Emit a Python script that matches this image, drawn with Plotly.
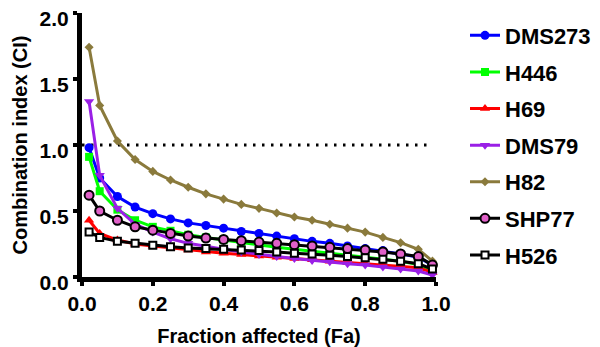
import plotly.graph_objects as go

# Fraction affected (Fa) levels
fa = [0.02, 0.05, 0.10, 0.15, 0.20, 0.25, 0.30, 0.35, 0.40, 0.45, 0.50,
      0.55, 0.60, 0.65, 0.70, 0.75, 0.80, 0.85, 0.90, 0.95, 0.99]

# Combination index (CI) per cell line
ci_dms273 = [0.98, 0.75, 0.61, 0.53, 0.48, 0.44, 0.41, 0.39, 0.37, 0.345, 0.33,
             0.31, 0.29, 0.27, 0.255, 0.235, 0.215, 0.20, 0.175, 0.15, 0.09]
ci_h446 = [0.91, 0.65, 0.51, 0.43, 0.38, 0.35, 0.32, 0.30, 0.28, 0.26, 0.24,
           0.225, 0.21, 0.195, 0.18, 0.165, 0.15, 0.135, 0.12, 0.095, 0.045]
ci_h69 = [0.43, 0.33, 0.28, 0.25, 0.235, 0.22, 0.205, 0.19, 0.18, 0.17, 0.16,
          0.15, 0.14, 0.13, 0.12, 0.11, 0.10, 0.095, 0.085, 0.07, 0.035]
ci_dms79 = [1.33, 0.77, 0.52, 0.40, 0.34, 0.29, 0.255, 0.23, 0.21, 0.19, 0.17,
            0.155, 0.14, 0.125, 0.115, 0.10, 0.09, 0.075, 0.06, 0.045, 0.015]
ci_h82 = [1.74, 1.30, 1.03, 0.89, 0.80, 0.735, 0.68, 0.63, 0.59, 0.55, 0.52,
          0.485, 0.455, 0.43, 0.40, 0.37, 0.34, 0.30, 0.26, 0.21, 0.12]
ci_shp77 = [0.62, 0.50, 0.43, 0.38, 0.355, 0.33, 0.31, 0.295, 0.285, 0.275, 0.265,
            0.255, 0.245, 0.235, 0.225, 0.215, 0.205, 0.19, 0.175, 0.155, 0.09]
ci_h526 = [0.34, 0.30, 0.27, 0.255, 0.24, 0.23, 0.22, 0.215, 0.21, 0.205, 0.20,
           0.19, 0.18, 0.175, 0.165, 0.155, 0.145, 0.135, 0.12, 0.10, 0.06]

x_ticks = [0.0, 0.2, 0.4, 0.6, 0.8, 1.0]
y_ticks = [0.0, 0.5, 1.0, 1.5, 2.0]
additivity_line = 1.0

FONT = "Liberation Sans, Arial, sans-serif"

series = [
    ("DMS273", ci_dms273, "#0000FF", "circle", "#0000FF", "#0000FF", 9),
    ("H446", ci_h446, "#00FF00", "square", "#00FF00", "#00FF00", 8),
    ("H69", ci_h69, "#FF0000", "triangle-up", "#FF0000", "#FF0000", 9),
    ("DMS79", ci_dms79, "#9A1FE6", "triangle-down", "#9A1FE6", "#9A1FE6", 9),
    ("H82", ci_h82, "#8A7A3C", "diamond", "#8A7A3C", "#8A7A3C", 7),
    ("SHP77", ci_shp77, "#000000", "circle", "#E060C8", "#000000", 9),
    ("H526", ci_h526, "#000000", "square", "#FFFFFF", "#000000", 7),
]

fig = go.Figure()

# CI = 1 reference (additivity)
fig.add_trace(go.Scatter(
    x=[0.0, 0.99], y=[additivity_line, additivity_line], mode="lines",
    line=dict(color="black", width=3, dash="2.5px,6.5px"),
    showlegend=False, hoverinfo="skip",
))

for i, (name, vals, lc, sym, fill, edge, size) in enumerate(series):
    fig.add_trace(go.Scatter(
        x=fa, y=vals, name=name, mode="lines+markers",
        legendgroup=f"g{i}",
        line=dict(color=lc, width=3),
        marker=dict(symbol=sym, size=size, color=fill,
                    line=dict(color=edge, width=2 if fill != edge else 0)),
        cliponaxis=False,
    ))

tick_font = dict(family=FONT, size=21, color="black", weight="bold")
title_font = dict(family=FONT, size=20, color="black", weight="bold")

fig.update_layout(
    width=600, height=347,
    margin=dict(l=82, r=164, t=13, b=70, autoexpand=False),
    paper_bgcolor="white", plot_bgcolor="white",
    font=dict(family=FONT, color="black"),
    xaxis=dict(
        range=[0, 1], tickvals=x_ticks, ticktext=[f"{v:.1f}" for v in x_ticks],
        showgrid=False, zeroline=False, showline=True, linecolor="black",
        linewidth=5, ticks="outside", ticklen=4, tickwidth=4, tickcolor="black",
        tickfont=tick_font, automargin=False,
        title=dict(text="Fraction affected (Fa)", font=title_font, standoff=16),
    ),
    yaxis=dict(
        range=[0, 2], tickvals=y_ticks, ticktext=[f"{v:.1f}" for v in y_ticks],
        showgrid=False, zeroline=False, showline=True, linecolor="black",
        linewidth=5, ticks="outside", ticklen=4, tickwidth=4, tickcolor="black",
        tickfont=tick_font, ticklabelshift=6, ticklabeloverflow="allow",
        automargin=False,
        title=dict(text="Combination index (CI)", font=title_font, standoff=8),
    ),
    legend=dict(
        xref="container", yref="container", x=0.775, y=0.958,
        xanchor="left", yanchor="top", maxheight=400,
        font=dict(family=FONT, size=22, color="black", weight="bold"),
        tracegroupgap=5, bgcolor="rgba(0,0,0,0)",
    ),
)

fig.write_html("out.html")
